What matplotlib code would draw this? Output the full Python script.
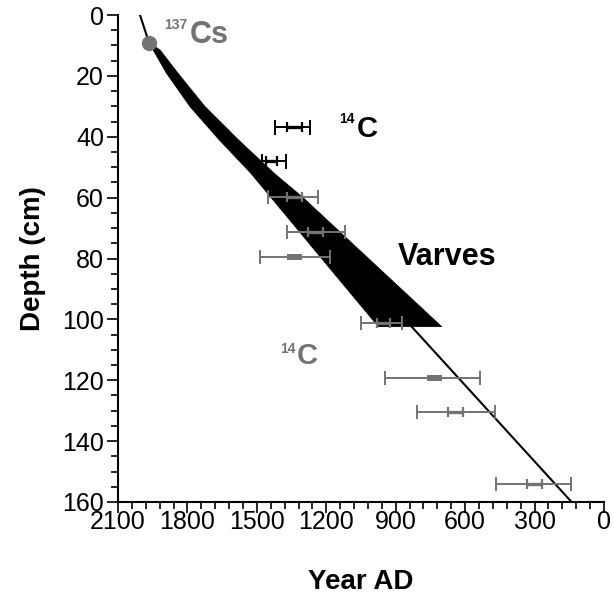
import numpy as np
import matplotlib
matplotlib.use("Agg")
import matplotlib.pyplot as plt

plt.rcParams["font.family"] = ["Liberation Sans", "DejaVu Sans"]

GRAY = "#737373"

# ---- data ------------------------------------------------------------------
# varve-chronology envelope (young edge / old edge), year AD vs depth (cm)
band_young_year = [1965, 1948, 1890, 1789, 1662, 1526, 1442, 1316, 1227, 1111, 975]
band_young_depth = [9.3, 11.5, 19.2, 30.1, 41.1, 52.0, 59.7, 71.2, 79.4, 90.0, 102.4]
band_old_year = [1960, 1918, 1840, 1725, 1580, 1425, 1300, 1142, 1026, 872, 701]
band_old_depth = [9.3, 11.5, 19.2, 30.0, 41.0, 52.0, 60.0, 71.2, 79.4, 90.3, 102.4]

# age-depth model line
model_year = [2005, 1965, 1865, 1757, 1621, 1475, 1371, 1229, 1127, 992, 831, 140]
model_depth = [0.0, 9.3, 19.2, 30.1, 41.1, 52.0, 59.7, 71.2, 79.4, 90.0, 102.4, 160.0]

# 137Cs peak
cs_year = [1965]
cs_depth = [9.3]

# 14C dates, black (upper)
c14a_depth = [36.9, 47.9]
c14a_center = [1340, 1438]
c14a_out_young = [1422, 1479]
c14a_out_old = [1270, 1376]
c14a_in_young = [1371, 1461]
c14a_in_old = [1306, 1415]

# 14C dates, gray
c14b_depth = [59.7, 71.2, 79.4, 101.3, 119.4, 130.3, 154.1]
c14b_center = [1339, 1246, 1338, 953, 733, 640, 300]
c14b_out_young = [1451, 1371, 1487, 1051, 946, 809, 468]
c14b_out_old = [1235, 1119, 1184, 874, 536, 471, 144]
c14b_in_young = [1371, 1278, 1371, 982, 766, 673, 331]
c14b_in_old = [1306, 1213, 1304, 925, 701, 608, 269]
c14b_capped = [True, True, False, True, False, True, True]

x_ticks = [2100, 1800, 1500, 1200, 900, 600, 300, 0]
y_ticks = [0, 20, 40, 60, 80, 100, 120, 140, 160]


def xerr(center, young, old):
    c = np.asarray(center, float)
    return [c - np.asarray(old, float), np.asarray(young, float) - c]


# ---- plot ------------------------------------------------------------------
fig = plt.figure(figsize=(6.14, 6.03), dpi=100)
ax = fig.add_axes([0.1922, 0.1675, 0.7915, 0.8076])

ax.fill(np.r_[band_young_year, band_old_year[::-1]],
        np.r_[band_young_depth, band_old_depth[::-1]],
        color="black", lw=0.5, ec="black", joinstyle="round", zorder=2)
ax.plot(model_year, model_depth, color="black", lw=1.5, zorder=2)
ax.plot(cs_year, cs_depth, "o", color=GRAY, ms=10, mec=GRAY, zorder=4)

# black 14C bars
ax.errorbar(c14a_center, c14a_depth,
            xerr=xerr(c14a_center, c14a_out_young, c14a_out_old),
            fmt="none", ecolor="black", elinewidth=1.4, capsize=5.4,
            capthick=1.4, zorder=5)
ax.errorbar(c14a_center, c14a_depth,
            xerr=xerr(c14a_center, c14a_in_young, c14a_in_old),
            fmt="none", ecolor="black", elinewidth=2.4, capsize=3.4,
            capthick=1.6, zorder=5)

# gray 14C bars
ax.errorbar(c14b_center, c14b_depth,
            xerr=xerr(c14b_center, c14b_out_young, c14b_out_old),
            fmt="none", ecolor=GRAY, elinewidth=1.4, capsize=5.0,
            capthick=1.4, zorder=5)
cap = np.array(c14b_capped)
cen = np.array(c14b_center)
dep = np.array(c14b_depth)
iy = np.array(c14b_in_young)
io = np.array(c14b_in_old)
ax.errorbar(cen[cap], dep[cap], xerr=xerr(cen[cap], iy[cap], io[cap]),
            fmt="none", ecolor=GRAY, elinewidth=2.4, capsize=3.4,
            capthick=1.6, zorder=5)
ax.errorbar(cen[~cap], dep[~cap], xerr=xerr(cen[~cap], iy[~cap], io[~cap]),
            fmt="none", ecolor=GRAY, elinewidth=4.3, capsize=0, zorder=5)

# labels inside the plot
ax.text(1800, 1.1, "137", color=GRAY, fontsize=10, fontweight="bold",
        ha="right", va="top")
ax.text(1789, 9.3, "Cs", color=GRAY, fontsize=22, fontweight="bold",
        ha="left", va="baseline")
ax.text(1076, 31.8, "14", color="black", fontsize=10, fontweight="bold",
        ha="right", va="top")
ax.text(1069, 40.0, "C", color="black", fontsize=21, fontweight="bold",
        ha="left", va="baseline")
ax.text(889, 82.1, "Varves", color="black", fontsize=22, fontweight="bold",
        ha="left", va="baseline")
ax.text(1334, 107.4, "14", color=GRAY, fontsize=10, fontweight="bold",
        ha="right", va="top")
ax.text(1327, 114.7, "C", color=GRAY, fontsize=21, fontweight="bold",
        ha="left", va="baseline")

ax.set_xlim(2100, 0)
ax.set_ylim(160, 0)
ax.set_xticks(x_ticks)
ax.set_yticks(y_ticks)
ax.set_xticks(np.arange(0, 2101, 60), minor=True)
ax.set_yticks(np.arange(0, 161, 5), minor=True)
ax.tick_params(which="major", direction="out", length=8, width=1.2,
               labelsize=18)
ax.tick_params(which="minor", direction="out", length=5, width=1.2)
ax.tick_params(axis="x", which="major", pad=-2)
ax.tick_params(axis="y", which="major", pad=2)
for s in ("top", "right"):
    ax.spines[s].set_visible(False)
for s in ("left", "bottom"):
    ax.spines[s].set_linewidth(1.5)

ax.set_xlabel("Year AD", fontsize=20, fontweight="bold", labelpad=25)
ax.set_ylabel("Depth (cm)", fontsize=20, fontweight="bold", labelpad=12)

fig.savefig("out.png", dpi=100)
